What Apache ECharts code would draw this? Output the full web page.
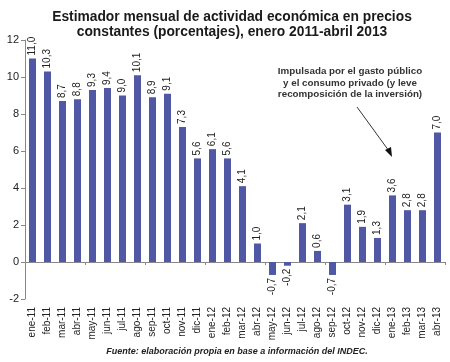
<!DOCTYPE html>
<html><head><meta charset="utf-8">
<script src="https://cdn.jsdelivr.net/npm/echarts@6/dist/echarts.min.js"></script>
<style>html,body{margin:0;padding:0;background:#fff}#c{width:450px;height:362px}</style>
</head><body><div id="c"></div>
<script>
const categories = ['ene-11','feb-11','mar-11','abr-11','may-11','jun-11','jul-11','ago-11','sep-11','oct-11','nov-11','dic-11','ene-12','feb-12','mar-12','abr-12','may-12','jun-12','jul-12','ago-12','sep-12','oct-12','nov-12','dic-12','ene-13','feb-13','mar-13','abr-13'];
const values = [11.0,10.3,8.7,8.8,9.3,9.4,9.0,10.1,8.9,9.1,7.3,5.6,6.1,5.6,4.1,1.0,-0.7,-0.2,2.1,0.6,-0.7,3.1,1.9,1.3,3.6,2.8,2.8,7.0];
const yTicks = [-2,0,2,4,6,8,10,12];
const titleText = 'Estimador mensual de actividad económica en precios\nconstantes (porcentajes), enero 2011-abril 2013';
const noteText = 'Impulsada por el gasto público\ny el consumo privado (y leve\nrecomposición de la inversión)';
const sourceText = 'Fuente: elaboración propia en base a información del INDEC.';

const font = 'Liberation Sans, Arial, sans-serif';
const chart = echarts.init(document.getElementById('c'));
const data = values.map(v => ({
  value: v,
  label: v < 0 ? {position: 'bottom', align: 'right'} : {position: 'top', align: 'left'}
}));
chart.setOption({
  animation: false,
  title: {
    text: titleText, left: 227, top: 5, textAlign: 'center',
    textStyle: {fontFamily: font, fontSize: 13.8, fontWeight: 'bold', color: '#1a1a1a', lineHeight: 15}
  },
  grid: {left: 25, right: 5, top: 40, bottom: 63},
  xAxis: [{
    type: 'category', data: categories, position: 'bottom',
    axisLine: {show: false, onZero: false}, axisTick: {show: false},
    axisLabel: {rotate: 90, interval: 0, margin: 8, fontFamily: font, fontSize: 10, color: '#222'}
  }, {
    type: 'category', data: categories, position: 'top',
    axisLine: {show: true, onZero: true, lineStyle: {color: '#888', width: 1}},
    axisTick: {show: true, inside: true, length: 3, lineStyle: {color: '#888'}},
    axisLabel: {show: false}
  }],
  yAxis: {
    type: 'value', min: -2, max: 12, interval: 2,
    axisLine: {show: true, lineStyle: {color: '#888'}},
    axisTick: {show: true, length: 4, lineStyle: {color: '#888'}},
    splitLine: {show: false},
    axisLabel: {fontFamily: font, fontSize: 11, color: '#222', margin: 6,
      formatter: v => yTicks.includes(v) ? String(v) : ''}
  },
  series: [{
    type: 'bar', data: data, xAxisIndex: 0, barWidth: 7,
    itemStyle: {color: '#5058a6'},
    label: {show: true, rotate: 90, verticalAlign: 'middle', distance: 3,
      fontFamily: font, fontSize: 10, color: '#222',
      formatter: p => p.value.toFixed(1).replace('.', ',')}
  }],
  graphic: [
    {type: 'text', style: {text: noteText, x: 350, y: 66, textAlign: 'center',
      font: 'bold 9.8px ' + font, fill: '#333', lineHeight: 11.5}},
    {type: 'line', shape: {x1: 357, y1: 107, x2: 389, y2: 151}, style: {stroke: '#333', lineWidth: 1}},
    {type: 'polygon', shape: {points: [[392, 157], [385, 150], [391, 147]]}, style: {fill: '#111'}},
    {type: 'text', style: {text: sourceText, x: 237, y: 347, textAlign: 'center',
      font: 'italic bold 9px ' + font, fill: '#222'}}
  ]
});
</script></body></html>
